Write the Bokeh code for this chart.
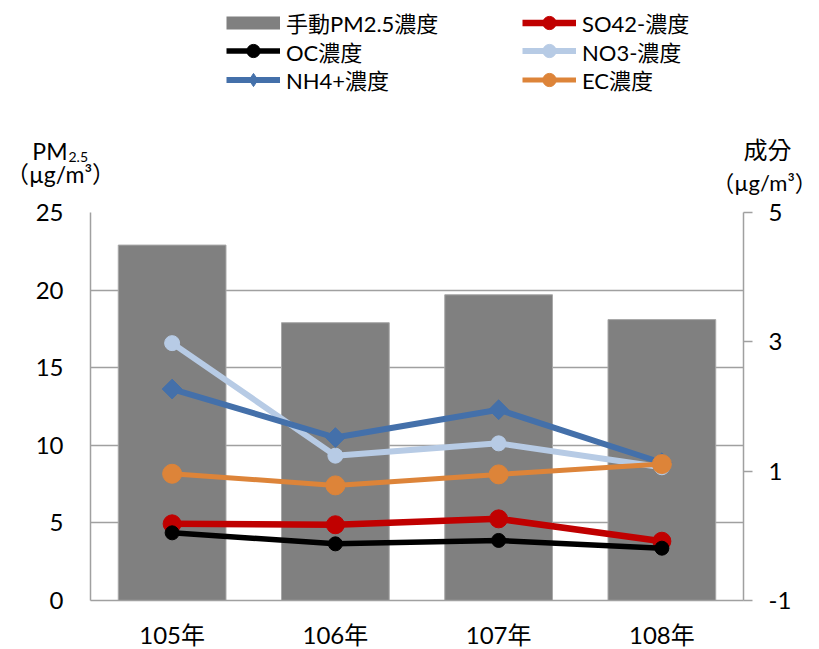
import math
from bokeh.plotting import figure
from bokeh.models import (ColumnDataSource, Range1d, FactorRange, LinearAxis, FixedTicker,
                          Legend, LegendItem, Label)
from bokeh.embed import file_html
from bokeh.resources import INLINE

# ---- data ----
years = ["105年", "106年", "107年", "108年"]
pm25 = [22.9, 17.9, 19.7, 18.1]          # left axis
so4 = [4.94, 4.88, 5.26, 3.82]           # left axis
oc = [4.36, 3.65, 3.87, 3.37]            # left axis
no3 = [2.98, 1.24, 1.43, 1.06]           # right axis
nh4 = [2.27, 1.52, 1.95, 1.13]           # right axis
ec = [0.96, 0.78, 0.95, 1.11]            # right axis
left_ticks = [0, 5, 10, 15, 20, 25]
right_ticks = [-1, 1, 3, 5]

FONT = "Lato, 'Noto Sans CJK TC', sans-serif"
GRID = "#a0a0a0"
W = 819
HEAD_H = 198
ITEM_H = 33

STY = {
    "so4": ("#C00000", 6.5, "circle", 18, 0.0),
    "oc": ("#000000", 5.5, "circle", 14, 0.0),
    "no3": ("#B7CBE5", 6, "circle", 15, 0.0),
    "nh4": ("#4470AA", 6, "square", 14, math.pi / 4),
    "ec": ("#DD8439", 5, "circle", 19, 0.0),
}

# ---------------- header figure: legend and axis titles ----------------
h = figure(x_range=Range1d(0, W), y_range=Range1d(HEAD_H, 0),
           width=W, height=HEAD_H, min_border=0,
           output_backend="svg", toolbar_location=None)
h.axis.visible = False
h.grid.visible = False
h.outline_line_color = None

proxy = ColumnDataSource(dict(x=[float("nan")], y=[float("nan")]))

def leg_series(color, lw, marker, size, angle=0.0):
    if marker == "square":
        marker = "diamond"
    l = h.line(x="x", y="y", source=proxy, line_color=color, line_width=lw, line_join="round")
    s = h.scatter(x="x", y="y", source=proxy, marker=marker, size=size,
                  fill_color=color, line_color=color)
    return [l, s]

bar_leg = h.line(x="x", y="y", source=proxy, line_color="#808080", line_width=13, line_cap="butt")
lg_so4 = leg_series(*STY["so4"])
lg_oc = leg_series(*STY["oc"])
lg_no3 = leg_series(*STY["no3"])
lg_nh4 = leg_series(*STY["nh4"])
lg_ec = leg_series(*STY["ec"])

def add_item(label, renderers, x, row_center):
    lg = Legend(items=[LegendItem(label=label, renderers=renderers)],
                location=(x, HEAD_H - row_center - ITEM_H / 2), orientation="vertical",
                background_fill_alpha=0, border_line_alpha=0, padding=0, margin=0,
                spacing=0, glyph_width=54, glyph_height=ITEM_H, label_height=ITEM_H,
                label_standoff=6, label_text_font=FONT, label_text_font_size="22px",
                label_text_color="black")
    h.add_layout(lg)

rows = [22, 50.5, 79]
add_item("手動PM2.5濃度", [bar_leg], 226, rows[0])
add_item("OC濃度", lg_oc, 226, rows[1])
add_item("NH4+濃度", lg_nh4, 226, rows[2])
add_item("SO42-濃度", lg_so4, 522, rows[0])
add_item("NO3-濃度", lg_no3, 522, rows[1])
add_item("EC濃度", lg_ec, 522, rows[2])

def lab(text, x, y, size, align="center", base="middle"):
    h.add_layout(Label(x=x, y=y, text=text, text_font=FONT, text_font_size=size,
                       text_color="black", text_align=align, text_baseline=base))

lab("PM", 67, 150, "23px", "right", "alphabetic")
lab("2.5", 68, 156, "14px", "left", "alphabetic")
lab("（µg/m³）", 60, 173, "23px")
lab("成分", 767, 149, "24px")
lab("（µg/m³）", 764, 182, "22px")

# ---------------- main chart ----------------
src = ColumnDataSource(dict(x=years, pm=pm25, so4=so4, oc=oc, no3=no3, nh4=nh4, ec=ec))

p = figure(x_range=FactorRange(*years), y_range=Range1d(0, 25),
           frame_width=653, frame_height=388,
           min_border_left=90, min_border_right=76, min_border_top=14, min_border_bottom=45,
           output_backend="svg", toolbar_location=None)
p.extra_y_ranges = {"r": Range1d(-1, 5)}
p.outline_line_color = None
p.xgrid.grid_line_color = None
p.ygrid.grid_line_color = GRID
p.ygrid.grid_line_width = 1.5

p.yaxis.ticker = FixedTicker(ticks=left_ticks)
p.yaxis.axis_line_color = GRID
p.yaxis.axis_line_width = 1.5
p.yaxis.major_tick_out = 0
p.yaxis.major_tick_in = 0
p.yaxis.minor_tick_line_color = None
p.yaxis.major_label_standoff = 27
p.yaxis.major_label_text_font = FONT
p.yaxis.major_label_text_font_size = "24px"
p.yaxis.major_label_text_color = "black"

p.xaxis.axis_line_color = GRID
p.xaxis.axis_line_width = 1.5
p.xaxis.major_tick_line_color = None
p.xaxis.minor_tick_line_color = None
p.xaxis.major_label_standoff = 13
p.xaxis.major_label_text_font = FONT
p.xaxis.major_label_text_font_size = "24px"
p.xaxis.major_label_text_color = "black"

ra = LinearAxis(y_range_name="r", ticker=FixedTicker(ticks=right_ticks))
ra.major_label_overrides = {-1: "-1"}
ra.axis_line_color = GRID
ra.axis_line_width = 1.5
ra.major_tick_line_color = GRID
ra.major_tick_line_width = 1.5
ra.major_tick_out = 9
ra.major_tick_in = 0
ra.minor_tick_line_color = None
ra.major_label_standoff = 16
ra.major_label_text_font = FONT
ra.major_label_text_font_size = "24px"
ra.major_label_text_color = "black"
p.add_layout(ra, "right")

p.vbar(x="x", top="pm", width=0.66, source=src, fill_color="#808080",
       line_color="#a8a8a8", line_width=1)

def series(col, color, lw, marker, size, angle, rng=None):
    kw = {} if rng is None else {"y_range_name": rng}
    p.line(x="x", y=col, source=src, line_color=color, line_width=lw, line_join="round", **kw)
    p.scatter(x="x", y=col, source=src, marker=marker, size=size, angle=angle,
              fill_color=color, line_color=color, **kw)

series("so4", *STY["so4"])
series("oc", *STY["oc"])
series("no3", *STY["no3"], rng="r")
series("nh4", *STY["nh4"], rng="r")
series("ec", *STY["ec"], rng="r")

open("out.html", "w").write(file_html([h, p], INLINE))
